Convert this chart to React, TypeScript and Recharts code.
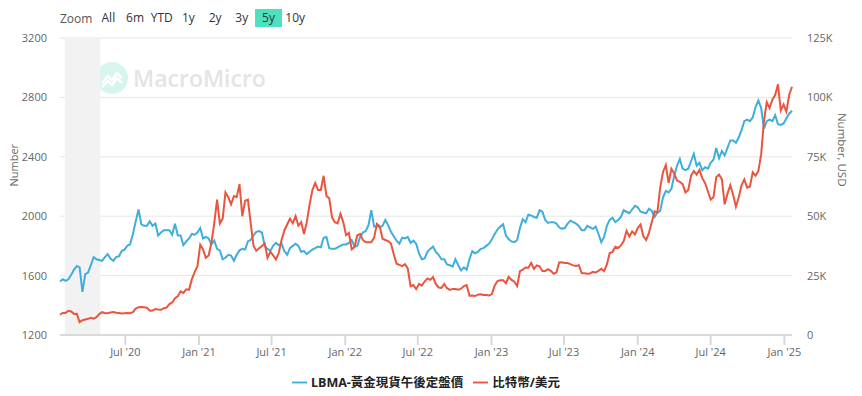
import React from 'react';
import {
  LineChart, Line, XAxis, YAxis, CartesianGrid, Legend, ReferenceArea,
} from 'recharts';

// weekly closes, one block per year (first Monday given in weekStarts)
const weekStarts = ['2020-01-20', '2021-01-04', '2022-01-03', '2023-01-02', '2024-01-01', '2025-01-06'];

const gold2020 = [
  1560, 1575, 1565, 1575, 1605, 1640, 1665, 1655, 1490, 1610, 1620, 1670, 1725, 1710, 1705,
  1700, 1725, 1745, 1715, 1700, 1725, 1730, 1765, 1775, 1800, 1810, 1880, 1965,
  2045, 1945, 1935, 1935, 1965, 1935, 1950, 1870, 1890, 1905, 1905, 1905, 1875,
  1950, 1870, 1870, 1805, 1830, 1850, 1880, 1875, 1890,
];
const gold2021 = [
  1920, 1850, 1860, 1850, 1810, 1835, 1780, 1770, 1710, 1720, 1740, 1735, 1700,
  1740, 1770, 1780, 1775, 1830, 1840, 1870, 1895, 1900, 1890, 1800, 1780, 1765,
  1800, 1820, 1805, 1815, 1765, 1740, 1785, 1800, 1815, 1800, 1760, 1765, 1745,
  1760, 1775, 1785, 1795, 1790, 1855, 1860, 1785, 1780, 1780, 1790, 1800, 1810,
];
const gold2022 = [
  1810, 1820, 1840, 1795, 1800, 1860, 1890, 1900, 1940, 2040, 1930, 1935, 1925,
  1935, 1975, 1940, 1895, 1865, 1835, 1815, 1855, 1850, 1860, 1820, 1835, 1815,
  1750, 1710, 1715, 1760, 1780, 1795, 1760, 1740, 1710, 1710, 1675, 1670, 1660,
  1710, 1670, 1635, 1655, 1640, 1710, 1765, 1750, 1760, 1780, 1785, 1800, 1815,
];
const gold2023 = [
  1845, 1880, 1910, 1930, 1945, 1870, 1845, 1830, 1825, 1840, 1920, 1980, 1960,
  2010, 2005, 1995, 1990, 2040, 2030, 1975, 1955, 1960, 1960, 1950, 1925, 1915,
  1920, 1950, 1970, 1960, 1950, 1935, 1905, 1905, 1935, 1925, 1915, 1930, 1880,
  1825, 1860, 1935, 1975, 1990, 1960, 1975, 1995, 2040, 2030, 2020, 2045, 2070,
];
const gold2024 = [
  2060, 2030, 2025, 2020, 2050, 2035, 1995, 2025, 2035, 2125, 2170, 2160, 2185,
  2270, 2340, 2385, 2320, 2310, 2320, 2370, 2420, 2340, 2360, 2310, 2330, 2320,
  2360, 2380, 2460, 2390, 2440, 2410, 2460, 2510, 2510, 2495, 2530, 2580, 2640, 2650,
  2640, 2665, 2735, 2780, 2730, 2590, 2640, 2650, 2640, 2680, 2620, 2615, 2625,
];
const gold2025 = [2660, 2690, 2710];

const btc2020 = [
  8600, 9300, 9300, 10200, 9900, 8800, 8900, 5400, 6200, 6500, 6800, 7200, 6900, 7500, 8800,
  9600, 9300, 9200, 9500, 9700, 9400, 9300, 9100, 9200, 9300, 9150, 9600, 11100,
  11700, 11800, 11700, 11500, 10200, 10300, 10900, 10700, 10600, 11300, 11500, 13000, 13700,
  15500, 16300, 18400, 17700, 19200, 19000, 23400, 26500, 29000,
];
const btc2021 = [
  38000, 36000, 32500, 33500, 39000, 47000, 57000, 47000, 49000, 60000, 58000, 55000, 58500,
  58000, 63500, 50000, 56500, 57000, 47000, 37500, 35500, 36500, 37500, 38500, 32500, 35000,
  33500, 31800, 34500, 40000, 44000, 46500, 49000, 47000, 50000, 46000, 47500, 42500, 47500,
  55000, 61000, 64000, 61000, 61000, 67000, 58500, 57500, 49500, 47500, 47000, 51000, 47500,
];
const btc2022 = [
  42000, 43000, 36000, 37000, 42000, 42500, 40000, 39000, 39000, 39000, 41000, 46800, 45800,
  40500, 40000, 39500, 38500, 34000, 30000, 29500, 29000, 29800, 28000, 20500, 21000, 19300,
  21500, 20800, 22500, 23800, 23200, 24400, 21500, 20000, 19800, 21500, 19700, 19000, 19400,
  19400, 19100, 19500, 20600, 21000, 16500, 16600, 16400, 17000, 17100, 16800, 16800, 16600,
];
const btc2023 = [
  17200, 20900, 22700, 23000, 23000, 21800, 24500, 23200, 22400, 20600, 26900, 27500, 28400,
  28300, 30300, 27800, 29300, 28900, 26900, 26900, 27700, 27000, 25800, 26300, 30500, 30600,
  30300, 30300, 29800, 29300, 29100, 29400, 26100, 26000, 25800, 25900, 26600, 26300, 27000,
  27900, 26900, 29700, 34500, 35000, 37100, 36600, 37700, 39500, 43800, 41400, 43600, 42300,
];
const btc2024 = [
  45000, 46500, 41500, 40000, 43000, 47500, 52000, 51500, 62000, 68500, 71500, 64000, 70000,
  68000, 65000, 64500, 63500, 60000, 61000, 67000, 69000, 67500, 69500, 66000, 64000, 60500,
  57000, 58000, 66500, 67500, 65500, 55000, 59500, 63000, 59000, 54000, 58000, 63000, 65500, 62000,
  62500, 68500, 67000, 69000, 76000, 90000, 98000, 95500, 99000, 101000, 105500, 94500, 97000,
];
const btc2025 = [94000, 101000, 104500];

const goldYears = [gold2020, gold2021, gold2022, gold2023, gold2024, gold2025];
const btcYears = [btc2020, btc2021, btc2022, btc2023, btc2024, btc2025];

const xTickDates = ['2020-07-01', '2021-01-01', '2021-07-01', '2022-01-01', '2022-07-01',
  '2023-01-01', '2023-07-01', '2024-01-01', '2024-07-01', '2025-01-01'];
const leftTicks = [1200, 1600, 2000, 2400, 2800, 3200];
const rightTicks = [0, 25000, 50000, 75000, 100000, 125000];
const rangeButtons = ['All', '6m', 'YTD', '1y', '2y', '3y', '5y', '10y'];

const DAY = 86400000;
const data: { t: number; gold: number; btc: number }[] = [];
weekStarts.forEach((s, i) => {
  const base = Date.parse(s);
  goldYears[i].forEach((g, j) => {
    data.push({ t: base + j * 7 * DAY, gold: g, btc: btcYears[i][j] });
  });
});

const xTicks = xTickDates.map((d) => Date.parse(d));
const MONTHS = ['Jan', 'Feb', 'Mar', 'Apr', 'May', 'Jun', 'Jul', 'Aug', 'Sep', 'Oct', 'Nov', 'Dec'];
const fmtDate = (v: number) => {
  const d = new Date(v);
  return `${MONTHS[d.getUTCMonth()]} '${String(d.getUTCFullYear()).slice(2)}`;
};
const fmtK = (v: number) => (v === 0 ? '0' : `${v / 1000}K`);

const FONT = '"Open Sans", "Noto Sans CJK TC", sans-serif';

export default function App() {
  return (
    <div style={{ position: 'absolute', left: 0, top: 0, width: 862, height: 396, background: '#fff', fontFamily: FONT }}>
      <div style={{ position: 'absolute', left: 60, top: 9, display: 'flex', alignItems: 'center', fontSize: 12, color: '#333' }}>
        <span style={{ width: 35, color: '#555' }}>Zoom</span>
        {rangeButtons.map((b) => (
          <span
            key={b}
            style={{
              width: 26.7, textAlign: 'center', lineHeight: '18px',
              background: b === '5y' ? '#4fe0c0' : 'transparent',
            }}
          >
            {b}
          </span>
        ))}
      </div>
      {/* watermark */}
      <div style={{ position: 'absolute', left: 96, top: 62, display: 'flex', alignItems: 'center' }}>
        <svg width={32} height={32}>
          <circle cx={16} cy={16} r={16} fill="#d5f5ee" />
          <polyline points="6,21 12,14 16,18 21,11 26,16" fill="none" stroke="#fff" strokeWidth={2.5} />
          <polyline points="6,25 12,19 16,23 21,16 26,21" fill="none" stroke="#fff" strokeWidth={2.5} />
        </svg>
        <span style={{ marginLeft: 5, fontSize: 23, fontWeight: 600, color: '#e4e4e4' }}>MacroMicro</span>
      </div>
      <LineChart width={862} height={396} data={data} margin={{ top: 38, right: 0, bottom: 4, left: 0 }}>
        <CartesianGrid vertical={false} stroke="#e6e6e6" yAxisId="left" />
        <ReferenceArea
          yAxisId="left"
          x1={Date.parse('2020-02-01')}
          x2={Date.parse('2020-04-30')}
          y1={1200}
          y2={3200}
          fill="#f2f2f2"
          fillOpacity={1}
          stroke="none"
        />
        <XAxis
          dataKey="t"
          type="number"
          domain={[Date.parse('2020-01-20'), Date.parse('2025-01-20')]}
          ticks={xTicks}
          tickFormatter={fmtDate}
          height={35}
          tickSize={10}
          tickMargin={3}
          stroke="#d9d9d9"
          strokeWidth={2}
          tick={{ fill: '#666', fontSize: 11 }}
        />
        <YAxis
          yAxisId="left"
          orientation="left"
          width={60}
          domain={[1200, 3200]}
          ticks={leftTicks}
          axisLine={false}
          tickLine={false}
          tickMargin={7}
          tick={{ fill: '#666', fontSize: 11 }}
          label={{ value: 'Number', angle: -90, position: 'insideLeft', offset: 14, fill: '#666', fontSize: 11 }}
        />
        <YAxis
          yAxisId="right"
          orientation="right"
          width={70}
          domain={[0, 125000]}
          ticks={rightTicks}
          tickFormatter={fmtK}
          axisLine={false}
          tickLine={false}
          tickMargin={9}
          tick={{ fill: '#666', fontSize: 11 }}
          label={{ value: 'Number, USD', angle: 90, position: 'insideRight', offset: 20, fill: '#666', fontSize: 11.5 }}
        />
        <Legend
          verticalAlign="bottom"
          iconType="plainline"
          iconSize={15}
          formatter={(v) => <span style={{ color: '#222', fontWeight: 700, fontSize: 12.5 }}>{v}</span>}
        />
        <Line
          yAxisId="left"
          dataKey="gold"
          name="LBMA-黃金現貨午後定盤價"
          stroke="#3eaedb"
          strokeWidth={2}
          dot={false}
          isAnimationActive={false}
        />
        <Line
          yAxisId="right"
          dataKey="btc"
          name="比特幣/美元"
          stroke="#ea5540"
          strokeWidth={2}
          dot={false}
          isAnimationActive={false}
        />
      </LineChart>
    </div>
  );
}
